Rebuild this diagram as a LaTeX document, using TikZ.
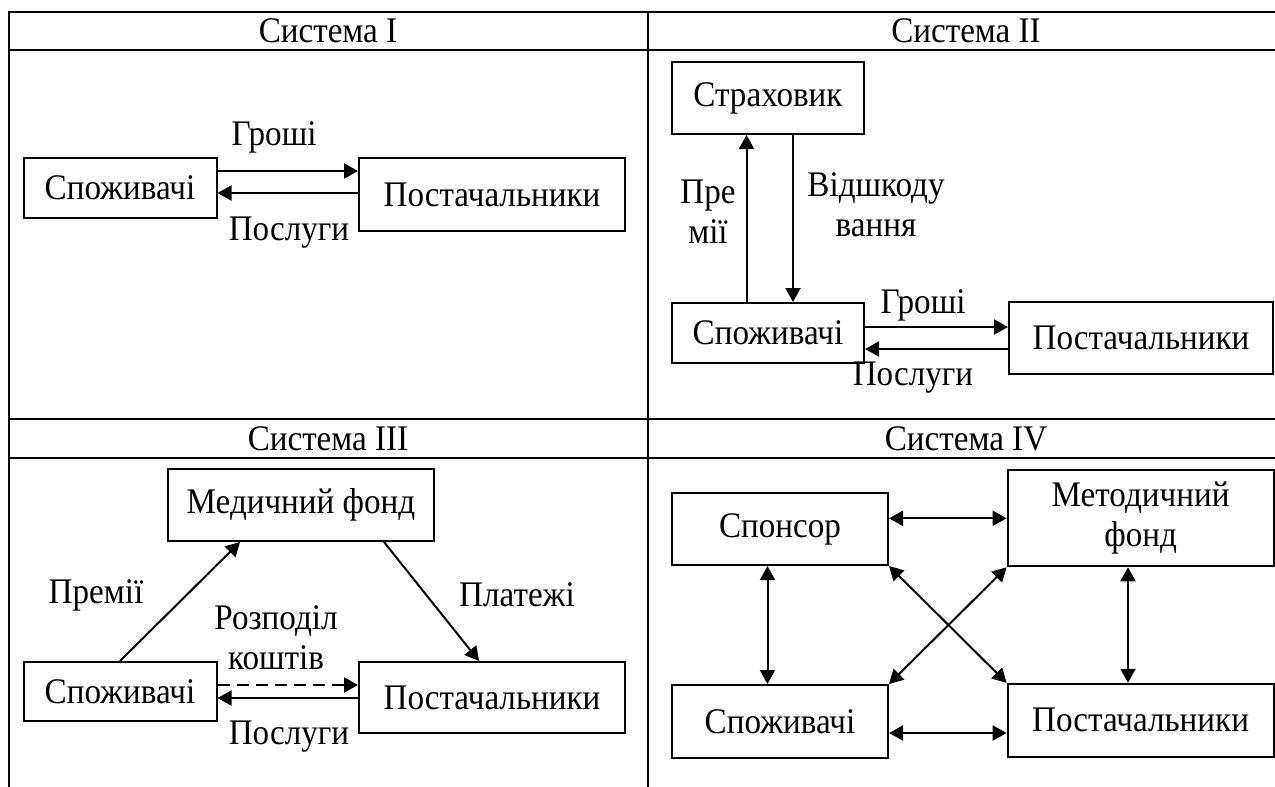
\documentclass[tikz,border=0pt]{standalone}
\usepackage{fontspec}
\setmainfont[FakeStretch=0.92]{Liberation Serif}
\usetikzlibrary{arrows.meta}
\def\drawtable{\draw[line width=1pt,line cap=rect]}
\def\drawflow{\draw[line width=1pt,-{Triangle[length=7pt,width=7.5pt]}]}
\def\drawboth{\draw[line width=1pt,{Triangle[length=7pt,width=7.5pt]}-{Triangle[length=7pt,width=7.5pt]}]}
\def\boxnode{\node[draw=black,line width=1pt,inner sep=2pt,align=center]}
\def\labnode{\node[inner sep=0pt,align=center]}

\begin{document}
\begin{tikzpicture}[x=0.5pt,y=-0.5pt,font=\fontsize{18}{20}\selectfont]
\useasboundingbox (0,0) rectangle (1275,787);
% table
\drawtable (9,12) -- (1275,12) (9,50) -- (1275,50) (9,419) -- (1275,419) (9,458) -- (1275,458);
\drawtable (9,12) -- (9,787) (648,12) -- (648,787);
\labnode (head1) at (328,31) {Система I};
\labnode (head2) at (966,31) {Система II};
\labnode (head3) at (328,438.5) {Система III};
\labnode (head4) at (966,438.5) {Система IV};
% system I
\boxnode[minimum width=96.5pt,minimum height=30pt] (cons1) at (120,188) {Споживачі};
\boxnode[minimum width=133pt,minimum height=36.5pt] (sup1) at (492,194.5) {Постачальники};
\drawflow ([yshift=8.5pt]cons1.east) coordinate (m1) -- (m1 -| sup1.west);
\drawflow ([yshift=0.75pt]sup1.west) coordinate (s1) -- (s1 -| cons1.east);
\labnode (money1) at (274,137) {Гроші};
\labnode (serv1) at (289,233) {Послуги};
% system II
\boxnode[minimum width=96pt,minimum height=36pt] (ins2) at (768,98) {Страховик};
\boxnode[minimum width=96pt,minimum height=30pt] (cons2) at (768,333) {Споживачі};
\boxnode[minimum width=132pt,minimum height=36pt] (sup2) at (1141,338) {Постачальники};
\drawflow ([xshift=-10.75pt]cons2.north) coordinate (p2) -- (p2 |- ins2.south);
\drawflow ([xshift=12.5pt]ins2.south) coordinate (c2) -- (c2 |- cons2.north);
\drawflow ([yshift=3pt]cons2.east) coordinate (m2) -- (m2 -| sup2.west);
\drawflow ([yshift=-5.5pt]sup2.west) coordinate (s2) -- (s2 -| cons2.east);
\labnode (prem2) at (708,212) {Пре\\мії};
\labnode (comp2) at (876,205) {Відшкоду\\вання};
\labnode (money2) at (923,305) {Гроші};
\labnode (serv2) at (913,378) {Послуги};
% system III
\boxnode[minimum width=133pt,minimum height=36pt] (fund3) at (301,505) {Медичний фонд};
\boxnode[minimum width=96.5pt,minimum height=29.5pt] (cons3) at (120,691.5) {Споживачі};
\boxnode[minimum width=133pt,minimum height=35.5pt] (sup3) at (492,697.5) {Постачальники};
\drawflow (cons3.north) -- ([xshift=-30.5pt]fund3.south);
\drawflow ([xshift=41.5pt]fund3.south) -- ([xshift=-6.5pt]sup3.north);
\drawflow[dash pattern=on 6pt off 3.5pt] ([yshift=3.25pt]cons3.east) coordinate (d3) -- (d3 -| sup3.west);
\drawflow ([yshift=-0.25pt]sup3.west) coordinate (s3) -- (s3 -| cons3.east);
\labnode (prem3) at (96,595) {Премії};
\labnode (pay3) at (517,595) {Платежі};
\labnode (distr3) at (276,638) {Розподіл\\коштів};
\labnode (serv3) at (289,737) {Послуги};
% system IV
\boxnode[minimum width=108pt,minimum height=36pt] (spons4) at (780,529) {Спонсор};
\boxnode[minimum width=133pt,minimum height=48pt] (fund4) at (1140.6,518.3) {Методичний\\фонд};
\boxnode[minimum width=108pt,minimum height=36.5pt] (cons4) at (780,721.5) {Споживачі};
\boxnode[minimum width=133pt,minimum height=36.5pt] (sup4) at (1140.6,720.3) {Постачальники};
\drawboth (fund4.west -| spons4.east) -- (fund4.west);
\drawboth ([yshift=-5.75pt]cons4.east) coordinate (b4) -- (b4 -| sup4.west);
\drawboth ([xshift=-6.25pt]spons4.south) coordinate (l4) -- (l4 |- cons4.north);
\drawboth ([xshift=-6.3pt]fund4.south) coordinate (r4) -- (r4 |- sup4.north);
\drawboth (spons4.south east) -- (sup4.north west);
\drawboth (fund4.south west) -- (cons4.north east);
\end{tikzpicture}
\end{document}
